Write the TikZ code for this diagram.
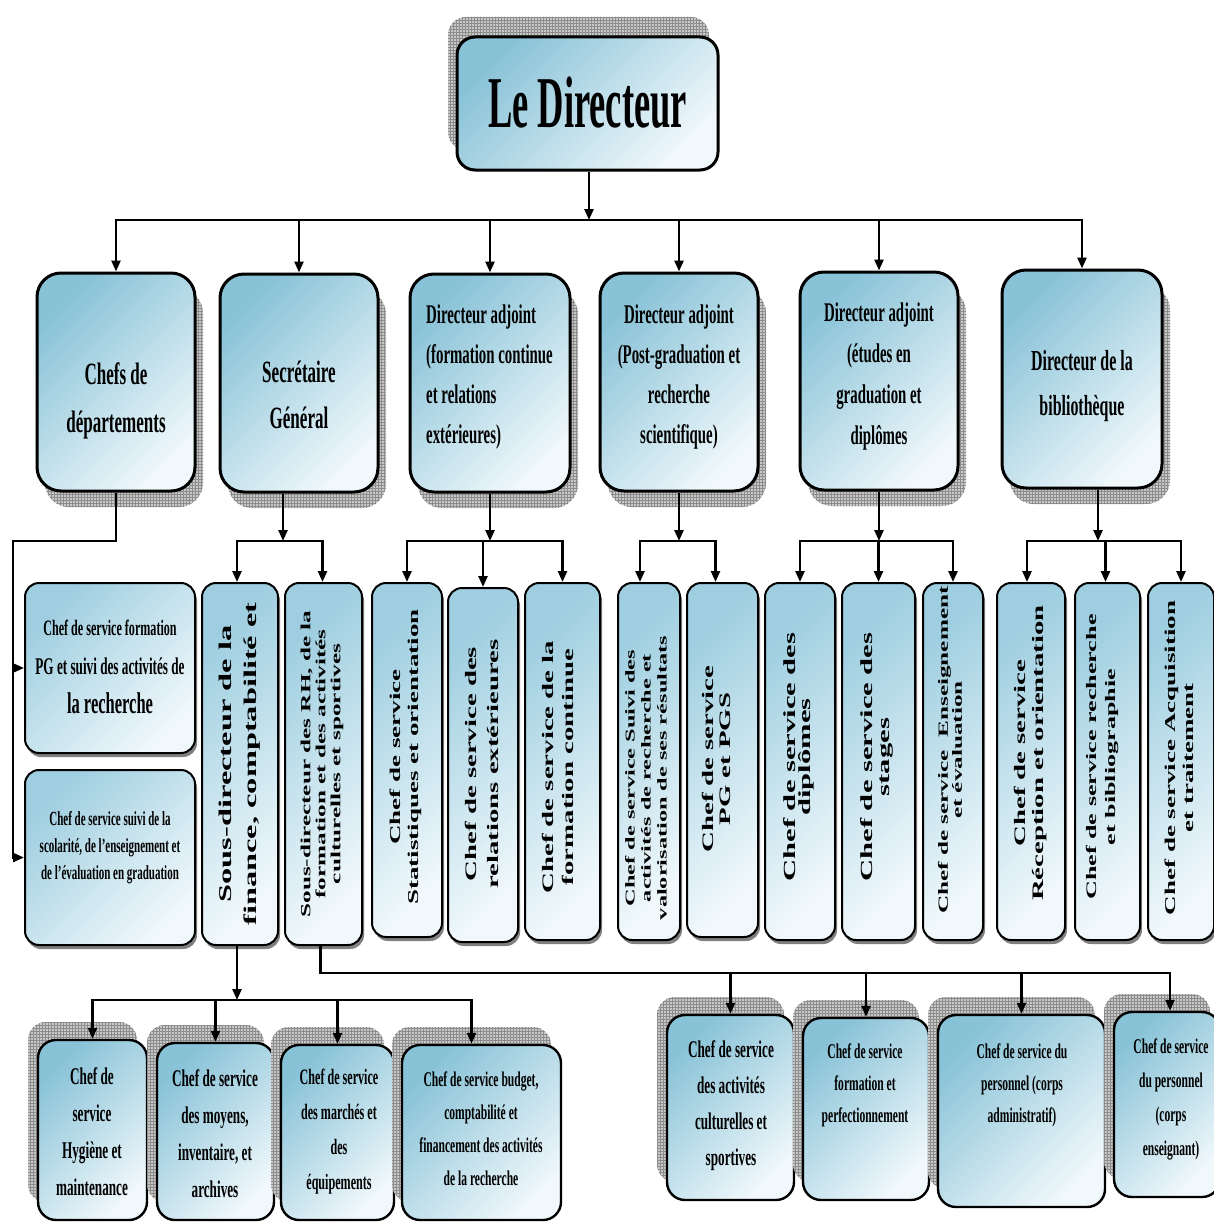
\documentclass[tikz,border=0pt]{standalone}
\usepackage{fontspec}
\setmainfont{Liberation Serif}
\newfontfamily\hfam{Liberation Serif}[FakeStretch=0.55]
\newfontfamily\tfam{Liberation Serif}[FakeStretch=0.5]
\newfontfamily\vfam{Liberation Serif}[FakeStretch=1.8]
\usetikzlibrary{arrows.meta,shadows,patterns}
\newcommand\HF[2]{\hfam\bfseries\fontsize{#1}{#2}\selectfont}
\newcommand\VF[2]{\vfam\bfseries\fontsize{#1}{#2}\selectfont}
\definecolor{boxA}{RGB}{136,194,215}
\definecolor{boxB}{RGB}{240,248,251}
\definecolor{svcA}{RGB}{158,206,224}
\definecolor{shgray}{RGB}{200,200,200}
\definecolor{gridgray}{RGB}{140,140,140}
\tikzset{
  line/.style={line width=2.4pt, draw=black},
  arr/.style={line, -{Triangle[length=11pt,width=9pt]}},
  arrs/.style={line, {Triangle[length=11pt,width=9pt]}-{Triangle[length=11pt,width=9pt]}},
  gshadow/.style 2 args={
    general shadow={fill=shgray, shadow xshift=#1, shadow yshift=#2},
    general shadow={pattern=grid, pattern color=gridgray, shadow xshift=#1, shadow yshift=#2}},
  sz/.style 2 args={minimum width=#1pt, minimum height=#2pt},
  grad/.style={top color=boxA, bottom color=boxB, shading angle=45},
  sgrad/.style={top color=svcA, bottom color=boxB, shading angle=45},
  topbox/.style={rectangle, inner sep=0pt, draw=black, line width=3pt, rounded corners=18pt, gshadow={-9pt}{20pt}, grad},
  midbox/.style={rectangle, inner sep=0pt, draw=black, line width=3pt, rounded corners=24pt, gshadow={8pt}{-16pt}, grad},
  svcbox/.style={rectangle, inner sep=0pt, draw=black, line width=2pt, rounded corners=14pt, general shadow={fill=black!50, shadow xshift=2pt, shadow yshift=-4pt}, sgrad},
  lowbox/.style={rectangle, inner sep=0pt, draw=black, line width=2.4pt, rounded corners=18pt, gshadow={-10pt}{18pt}, grad},
  lbl/.style={inner sep=0pt, align=center, text=black},
  vlbl/.style={inner sep=0pt, align=center, text=black, rotate=90},
}
\begin{document}
\begin{tikzpicture}[x=1pt,y=-1pt]
\useasboundingbox (0,0) rectangle (1214,1223);
\clip (0,0) rectangle (1214,1223);
\fill[white] (0,0) rectangle (1214,1223);

% ---- top
\node[topbox, sz={261}{133}] (dir) at (587.5,103.5) {};
\node[lbl, font={\tfam\bfseries\fontsize{73}{80}\selectfont}] (dirt) at (587.5,103) {Le Directeur};

% ---- level 2
\node[midbox, sz={158}{218}] (c1) at (116,382) {};
\node[midbox, sz={158}{218}] (c2) at (299,383) {};
\node[midbox, sz={160}{218}] (c3) at (490,383) {};
\node[midbox, sz={158}{218}] (c4) at (679,382) {};
\node[midbox, sz={158}{218}] (c5) at (879,381) {};
\node[midbox, sz={160}{218}] (c6) at (1082,379) {};
\node[lbl, font={\HF{31}{48}}] (c1t) at (116,401) {Chefs de\\départements};
\node[lbl, font={\HF{31}{46}}] (c2t) at (299,395) {Secrétaire\\Général};
\node[lbl, font={\HF{27}{40}}, align=left, anchor=west] (c3t) at (426,377) {Directeur adjoint\\(formation continue\\et relations\\extérieures)};
\node[lbl, font={\HF{27}{40}}] (c4t) at (679,377) {Directeur adjoint\\(Post-graduation et\\recherche\\scientifique)};
\node[lbl, font={\HF{27}{41}}] (c5t) at (879,377) {Directeur adjoint\\(études en\\graduation et\\diplômes};
\node[lbl, font={\HF{29}{45}}] (c6t) at (1082,386) {Directeur de la\\bibliothèque};

% ---- level 3
\node[svcbox, sz={170}{170}] (sA) at (110,668) {};
\node[svcbox, sz={170}{175}] (sB) at (110,857.5) {};
\node[svcbox, sz={76}{362}] (sF) at (240,764) {};
\node[svcbox, sz={77}{362}] (sR) at (323.5,764) {};
\node[svcbox, sz={70}{354}] (s1) at (407,760) {};
\node[svcbox, sz={70}{354}] (s2) at (483,765) {};
\node[svcbox, sz={75}{357}] (s3) at (562.5,761.5) {};
\node[svcbox, sz={62}{357}] (s4) at (649,761.5) {};
\node[svcbox, sz={71}{354}] (s5) at (722.5,760) {};
\node[svcbox, sz={70}{357}] (s6) at (800,761.5) {};
\node[svcbox, sz={73}{357}] (s7) at (878.5,761.5) {};
\node[svcbox, sz={60}{357}] (s8) at (953,761.5) {};
\node[svcbox, sz={68}{357}] (s9) at (1031,761.5) {};
\node[svcbox, sz={65}{357}] (s10) at (1107.5,761.5) {};
\node[svcbox, sz={66}{357}] (s11) at (1181,761.5) {};

\node[lbl, font={\HF{24}{39}}] (sAt) at (110,667) {{\fontsize{22}{39}\selectfont Chef de service formation}\\PG et suivi des activités de\\{\fontsize{30}{39}\selectfont la recherche}};
\node[lbl, font={\HF{20}{27}}] (sBt) at (110,848) {Chef de service suivi de la\\scolarité, de l’enseignement et\\de l’évaluation en graduation};
\node[vlbl, font={\VF{18}{25}}] (sFt) at (239.5,764) {Sous-directeur de la\\finance, comptabilité et};
\node[vlbl, font={\VF{14}{15}}] (sRt) at (322,764) {Sous-directeur des RH, de la\\formation et des activités\\culturelles et sportives};
\node[vlbl, font={\VF{15}{18}}] (s1t) at (406,757) {Chef de service\\Statistiques et orientation};
\node[vlbl, font={\VF{16}{22}}] (s2t) at (481.5,764) {Chef de service des\\relations extérieures};
\node[vlbl, font={\VF{16}{20}}] (s3t) at (558,767) {Chef de service de la\\formation continue};
\node[vlbl, font={\VF{13.5}{16}}] (s4t) at (646,778) {Chef de service Suivi des\\activités de recherche et\\valorisation de ses résultats};
\node[vlbl, font={\VF{16}{17}}] (s5t) at (716.5,759) {Chef de service\\PG et PGS};
\node[vlbl, font={\VF{17}{15}}] (s6t) at (798.5,757) {Chef de service des\\diplômes};
\node[vlbl, font={\VF{17}{17}}] (s7t) at (876.5,757) {Chef de service des\\stages};
\node[vlbl, font={\VF{14}{14}}] (s8t) at (950,750) {Chef de service\ \ Enseignement\\et évaluation};
\node[vlbl, font={\VF{16}{18}}] (s9t) at (1031,753) {Chef de service\\Réception et orientation};
\node[vlbl, font={\VF{14.5}{19}}] (s10t) at (1102.5,757) {Chef de service recherche\\et bibliographie};
\node[vlbl, font={\VF{15}{18}}] (s11t) at (1179,758) {Chef de service Acquisition\\et traitement};

% ---- bottom left
\node[lowbox, sz={109}{180}] (bH) at (92.5,1130) {};
\node[lowbox, sz={117}{177}] (bM) at (215.5,1131.5) {};
\node[lowbox, sz={113}{175}] (bMa) at (337.5,1132.5) {};
\node[lowbox, sz={159}{175}] (bBu) at (481.5,1132.5) {};
\node[lbl, font={\HF{24}{37}}] (bHt) at (92,1132) {Chef de\\service\\Hygiène et\\maintenance};
\node[lbl, font={\HF{24}{37}}] (bMt) at (215,1134) {Chef de service\\des moyens,\\inventaire, et\\archives};
\node[lbl, font={\HF{22}{35}}] (bMat) at (339,1132) {Chef de service\\des marchés et\\des\\équipements};
\node[lbl, font={\HF{21}{33}}] (bBut) at (481,1129) {Chef de service budget,\\comptabilité et\\financement des activités\\de la recherche};

% ---- bottom right
\node[lowbox, sz={127}{185}] (bC) at (730.5,1107.5) {};
\node[lowbox, sz={126}{182}] (bFo) at (866,1109) {};
\node[lowbox, sz={167}{192}] (bP) at (1021.5,1111) {};
\node[lowbox, sz={106}{185}] (bE) at (1167,1104.5) {};
\node[lbl, font={\HF{24}{36}}] (bCt) at (731,1106) {Chef de service\\des activités\\culturelles et\\sportives};
\node[lbl, font={\HF{21}{32}}] (bFot) at (865,1085) {Chef de service\\formation et\\perfectionnement};
\node[lbl, font={\HF{21}{32}}] (bPt) at (1022,1085) {Chef de service du\\personnel (corps\\administratif)};
\node[lbl, font={\HF{21}{34}}] (bEt) at (1171,1099) {Chef de service\\du personnel\\(corps\\enseignant)};

% ---- bus coordinates
\coordinate (bus1) at (0,220);
\coordinate (bus2) at (0,541);
\coordinate (bus3) at (0,1000);
\coordinate (bus4) at (0,973);
\coordinate (lft) at (13,541);

% ---- connectors level 1 -> 2
\draw[arr] ([xshift=1.5pt]dir.south) -- ([xshift=1.5pt]dir.south |- bus1);
\draw[arrs] (c1.north) -- (c1.north |- bus1) -- (c6.north |- bus1) -- (c6.north);
\foreach \n in {c2,c3,c4,c5}{\draw[arr] (\n.north |- bus1) -- (\n.north);}

% ---- level 2 -> 3
\draw[arr] (c1.south) -- (c1.south |- lft) -- (lft) -- (lft |- sB.west) -- (sB.west);
\draw[arr] (lft |- sA.west) -- (sA.west);

\draw[arr] ([xshift=-16pt]c2.south) -- ([xshift=-16pt]c2.south |- bus2);
\draw[arrs] ([xshift=-3pt]sF.north) -- ([xshift=-3pt]sF.north |- bus2) -- ([xshift=-1pt]sR.north |- bus2) -- ([xshift=-1pt]sR.north);

\draw[arr] (c3.south) -- (c3.south |- bus2);
\draw[arrs] (s1.north) -- (s1.north |- bus2) -- (s3.north |- bus2) -- (s3.north);
\draw[arr] (s2.north |- bus2) -- (s2.north);

\draw[arr] (c4.south) -- (c4.south |- bus2);
\draw[arrs] ([xshift=-9pt]s4.north) -- ([xshift=-9pt]s4.north |- bus2) -- ([xshift=-7pt]s5.north |- bus2) -- ([xshift=-7pt]s5.north);

\draw[arr] (c5.south) -- (c5.south |- bus2);
\draw[arrs] (s6.north) -- (s6.north |- bus2) -- (s8.north |- bus2) -- (s8.north);
\draw[arr] (s7.north |- bus2) -- (s7.north);

\draw[arr] ([xshift=16pt]c6.south) -- ([xshift=16pt]c6.south |- bus2);
\draw[arrs] ([xshift=-4pt]s9.north) -- ([xshift=-4pt]s9.north |- bus2) -- (s11.north |- bus2) -- (s11.north);
\draw[arr] ([xshift=-2pt]s10.north |- bus2) -- ([xshift=-2pt]s10.north);

% ---- level 3 -> 4
\draw[arr] ([xshift=-3pt]sF.south) -- ([xshift=-3pt]sF.south |- bus3);
\draw[arrs] (bH.north) -- (bH.north |- bus3) -- ([xshift=-10pt]bBu.north |- bus3) -- ([xshift=-10pt]bBu.north);
\draw[arr] (bM.north |- bus3) -- (bM.north);
\draw[arr] (bMa.north |- bus3) -- (bMa.north);

\draw[arr] ([xshift=-3pt]sR.south) -- ([xshift=-3pt]sR.south |- bus4) -- ([xshift=3pt]bE.north |- bus4) -- ([xshift=3pt]bE.north);
\draw[arr] (bC.north |- bus4) -- (bC.north);
\draw[arr] (bFo.north |- bus4) -- (bFo.north);
\draw[arr] (bP.north |- bus4) -- (bP.north);
\end{tikzpicture}
\end{document}
